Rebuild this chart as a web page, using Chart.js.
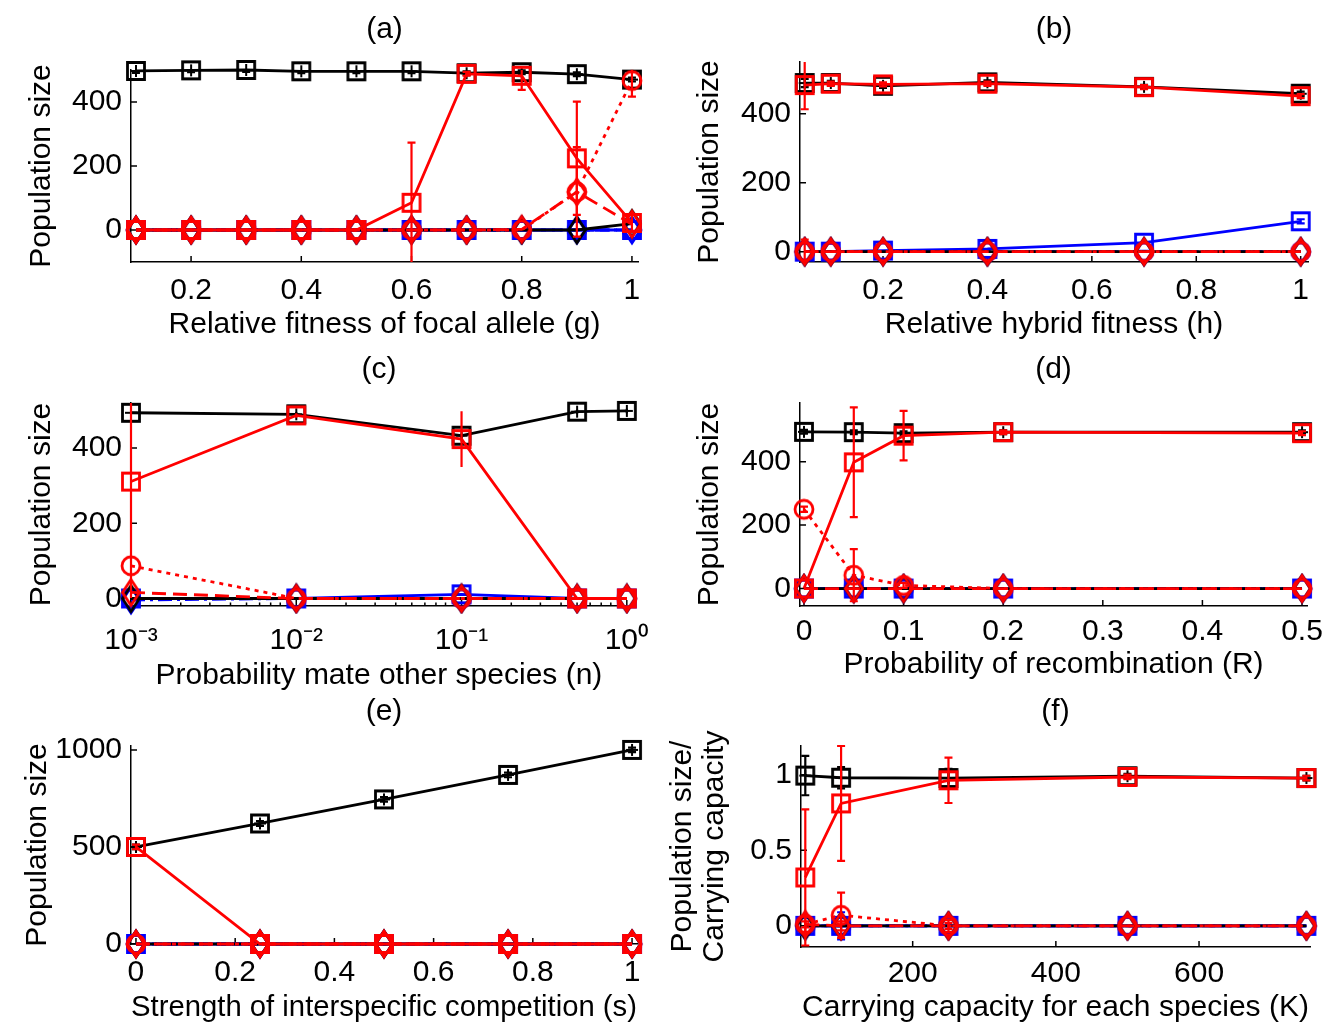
<!DOCTYPE html>
<html>
<head>
<meta charset="utf-8">
<script src="https://cdn.jsdelivr.net/npm/chart.js@4.4.1/dist/chart.umd.min.js"></script>
<style>
body { margin: 0; background: #fff; }
#wrap { position: relative; width: 1333px; height: 1026px; overflow: hidden; }
canvas { position: absolute; }
</style>
</head>
<body>
<div id="wrap"></div>
<script>
// ---- data ----
// (a) relative fitness of focal allele
const a_x = [0.1, 0.2, 0.3, 0.4, 0.5, 0.6, 0.7, 0.8, 0.9, 1.0];
const a_k_sq = [497, 499, 500, 496, 496, 496, 490, 493, 487, 470];
const a_k_sq_err = [6, 6, 6, 6, 6, 6, 6, 6, 6, 6];
const a_k_di = [0, 0, 0, 0, 0, 0, 0, 0, 0, 20];
const a_b_sq = [0, 0, 0, 0, 0, 0, 0, 0, 0, 0];
const a_b_ci = [0, 0, 0, 0, 0, 0, 0, 0, 0, 0];
const a_b_di = [0, 0, 0, 0, 0, 0, 0, 0, 0, 0];
const a_r_sq = [0, 0, 0, 0, 0, 85, 488, 482, 224, 22];
const a_r_sq_err = [0, 0, 0, 0, 0, 188, 6, 44, 177, 25];
const a_r_ci = [0, 0, 0, 0, 0, 0, 0, 0, 119, 467];
const a_r_ci_err = [0, 0, 0, 0, 0, 0, 0, 0, 140, 50];
const a_r_di = [0, 0, 0, 0, 0, 0, 0, 2, 119, 18];
const a_xt = [0.2, 0.4, 0.6, 0.8, 1];
const a_yt = [0, 200, 400];

// (b) relative hybrid fitness
const b_x = [0.05, 0.1, 0.2, 0.4, 0.7, 1.0];
const b_k_sq = [489, 489, 481, 491, 478, 458];
const b_k_sq_err = [12, 6, 6, 6, 6, 6];
const b_k_di = [0, 0, 0, 0, 0, 0];
const b_b_sq = [0, 0, 3, 8, 26, 88];
const b_b_sq_err = [0, 0, 0, 0, 0, 6];
const b_b_ci = [0, 0, 0, 0, 0, 0];
const b_b_di = [0, 0, 0, 0, 0, 0];
const b_r_sq = [483, 487, 485, 487, 477, 451];
const b_r_sq_err = [70, 6, 6, 6, 6, 6];
const b_r_ci = [0, 0, 0, 0, 0, 0];
const b_r_ci_err = [35, 0, 0, 0, 0, 0];
const b_r_di = [0, 0, 0, 0, 0, 0];
const b_xt = [0.2, 0.4, 0.6, 0.8, 1];
const b_yt = [0, 200, 400];

// (c) probability mate other species (log axis)
const c_x = [0.001, 0.01, 0.1, 0.5, 1];
const c_k_sq = [494, 490, 433, 497, 499];
const c_k_sq_err = [0, 6, 6, 6, 6];
const c_k_di = [0, 0, 0, 0, 0];
const c_b_sq = [0, 0, 11, 0, 0];
const c_b_ci = [0, 0, 0, 0, 0];
const c_b_di = [-4, 0, 0, 0, 0];
const c_r_sq = [311, 487, 424, 0, 0];
const c_r_sq_err = [310, 6, 74, 0, 0];
const c_r_ci = [87, 0, 0, 0, 0];
const c_r_di = [16, 0, 0, 0, 0];
const c_xt = [0.001, 0.01, 0.1, 1];
const c_xtl = ['10\u207B\u00B3', '10\u207B\u00B2', '10\u207B\u00B9', '10\u2070'];
const c_yt = [0, 200, 400];

// (d) probability of recombination
const d_x = [0, 0.05, 0.1, 0.2, 0.5];
const d_k_sq = [494, 493, 490, 493, 493];
const d_k_sq_err = [6, 6, 6, 6, 6];
const d_k_di = [0, 0, 0, 0, 0];
const d_b_sq = [0, 0, 0, 0, 0];
const d_b_ci = [0, 0, 0, 0, 0];
const d_b_di = [0, 0, 0, 0, 0];
const d_r_sq = [0, 398, 482, 493, 490];
const d_r_sq_err = [0, 173, 78, 6, 6];
const d_r_ci = [250, 42, 10, 0, 0];
const d_r_ci_err = [8, 82, 8, 0, 0];
const d_r_di = [0, 0, 0, 0, 0];
const d_xt = [0, 0.1, 0.2, 0.3, 0.4, 0.5];
const d_yt = [0, 200, 400];

// (e) strength of interspecific competition
const e_x = [0, 0.25, 0.5, 0.75, 1];
const e_k_sq = [500, 621, 745, 871, 1000];
const e_k_sq_err = [12, 12, 12, 12, 12];
const e_k_di = [0, 0, 0, 0, 0];
const e_b_sq = [0, 0, 0, 0, 0];
const e_b_ci = [0, 0, 0, 0, 0];
const e_b_di = [0, 0, 0, 0, 0];
const e_r_sq = [500, 0, 0, 0, 0];
const e_r_sq_err = [12, 0, 0, 0, 0];
const e_r_ci = [0, 0, 0, 0, 0];
const e_r_di = [0, 0, 0, 0, 0];
const e_xt = [0, 0.2, 0.4, 0.6, 0.8, 1];
const e_yt = [0, 500, 1000];

// (f) carrying capacity for each species
const f_x = [50, 100, 250, 500, 750];
const f_k_sq = [0.994, 0.98, 0.978, 0.99, 0.978];
const f_k_sq_err = [0.13, 0.07, 0.06, 0.015, 0.015];
const f_k_di = [0, 0, 0, 0, 0];
const f_b_sq = [0, 0, 0, 0, 0];
const f_b_ci = [0, 0, 0, 0, 0];
const f_b_di = [0, 0, 0, 0, 0];
const f_b_di_err = [0, 0.09, 0, 0, 0];
const f_r_sq = [0.32, 0.81, 0.963, 0.985, 0.978];
const f_r_sq_err = [0.45, 0.38, 0.15, 0.015, 0.015];
const f_r_ci = [0.01, 0.07, 0, 0, 0];
const f_r_ci_err = [0.05, 0.15, 0.02, 0, 0];
const f_r_di = [0.01, 0, 0, 0, 0];
const f_r_di_err = [0.02, 0.03, 0.04, 0, 0];
const f_xt = [200, 400, 600];
const f_yt = [0, 0.5, 1];

// ---- drawing ----
Chart.defaults.font.family = '"Liberation Sans", Arial, sans-serif';
Chart.defaults.font.size = 30;
Chart.defaults.color = '#000';
const FS = 30;

const BLACK = '#000000', RED = '#ff0000', BLUE = '#0000ff';

// matlab-like marker glyphs
function marker(shape, color) {
  const c = document.createElement('canvas');
  const w = 26, h = shape === 'diamond' ? 32 : 26;
  c.width = w; c.height = h;
  const g = c.getContext('2d');
  const cx = w / 2, cy = h / 2;
  g.strokeStyle = color;
  g.lineWidth = 2.8;
  g.beginPath();
  if (shape === 'square' || shape === 'sqplus') g.rect(cx - 8.5, cy - 8.5, 17, 17);
  else if (shape === 'circle') g.arc(cx, cy, 9, 0, Math.PI * 2);
  else { g.moveTo(cx, cy - 13); g.lineTo(cx + 8.5, cy); g.lineTo(cx, cy + 13); g.lineTo(cx - 8.5, cy); g.closePath(); }
  g.stroke();
  if (shape === 'sqplus') {
    g.lineWidth = 2;
    g.beginPath();
    g.moveTo(cx, cy - 6); g.lineTo(cx, cy + 6);
    g.moveTo(cx - 6, cy); g.lineTo(cx + 6, cy);
    g.stroke();
  }
  return c;
}

function series(xs, ys, errs, color, shape, dash) {
  return {
    data: xs.map((x, i) => ({x: x, y: ys[i]})),
    errs: errs || null,
    borderColor: color,
    backgroundColor: color,
    borderWidth: 2.8,
    borderDash: dash,
    pointStyle: marker(shape, color),
    pointRadius: 8,
    tension: 0,
    clip: false
  };
}

// bottom -> top
function panelSets(x, s) {
  const list = [
    series(x, s.b_di, s.b_di_err, BLUE, 'diamond', [14, 5, 3, 5]),
    series(x, s.b_ci, null, BLUE, 'circle', [10, 6]),
    series(x, s.b_sq, s.b_sq_err, BLUE, 'square', []),
    series(x, s.k_di, null, BLACK, 'diamond', []),
    series(x, s.k_sq, s.k_sq_err, BLACK, 'sqplus', []),
    series(x, s.r_di, s.r_di_err, RED, 'diamond', [14, 7]),
    series(x, s.r_ci, s.r_ci_err, RED, 'circle', [4, 5]),
    series(x, s.r_sq, s.r_sq_err, RED, 'square', [])
  ];
  list.forEach((d, i) => { d.order = list.length - i; });
  return list;
}

const errorBars = {
  id: 'errorBars',
  afterDatasetDraw(chart, args, opts) {
    const ds = chart.data.datasets[args.index];
    if (!ds.errs) return;
    const xs = chart.scales.x, ys = chart.scales.y, area = chart.chartArea, ctx = chart.ctx;
    const cw = opts.cap;
    ctx.save();
    ctx.strokeStyle = ds.borderColor;
    ctx.lineWidth = 2.2;
    ctx.beginPath();
    ds.data.forEach((p, i) => {
      const e = ds.errs[i];
      if (!e) return;
      const px = xs.getPixelForValue(p.x);
      let top = ys.getPixelForValue(p.y + e), bot = ys.getPixelForValue(p.y - e);
      const capTop = top >= area.top, capBot = bot <= area.bottom;
      top = Math.max(top, area.top); bot = Math.min(bot, area.bottom);
      ctx.moveTo(px, top); ctx.lineTo(px, bot);
      if (cw && capTop) { ctx.moveTo(px - cw, top); ctx.lineTo(px + cw, top); }
      if (cw && capBot) { ctx.moveTo(px - cw, bot); ctx.lineTo(px + cw, bot); }
    });
    ctx.stroke();
    ctx.restore();
  }
};

// inward tick marks, matlab style
const inTicks = {
  id: 'inTicks',
  beforeDatasetsDraw(chart) {
    const {ctx, chartArea: a, scales: {x, y}} = chart;
    ctx.save();
    ctx.strokeStyle = '#000';
    ctx.lineWidth = 1.5;
    ctx.beginPath();
    x.ticks.forEach(t => {
      const px = x.getPixelForValue(t.value);
      const len = t.label ? 6 : 3.5;
      ctx.moveTo(px, a.bottom); ctx.lineTo(px, a.bottom - len);
    });
    y.ticks.forEach(t => {
      const py = y.getPixelForValue(t.value);
      ctx.moveTo(a.left, py); ctx.lineTo(a.left + 6, py);
    });
    ctx.stroke();
    ctx.restore();
  }
};

function makeChart(p) {
  const cv = document.createElement('canvas');
  cv.width = p.w; cv.height = p.h;
  cv.style.left = p.x0 + 'px';
  cv.style.top = p.y0 + 'px';
  document.getElementById('wrap').appendChild(cv);
  const lh = FS * 1.2;
  const multi = Array.isArray(p.ylab);
  const ylh = multi ? FS * 1.07 : lh;
  const tTop = p.tc - p.y0 - lh / 2;
  const tBot = p.T - p.y0 - tTop - lh;
  const axisStyle = {
    grid: {display: false, drawTicks: false},
    border: {display: true, color: '#000', width: 1.5}
  };
  new Chart(cv, {
    type: 'line',
    data: {datasets: p.sets},
    options: {
      responsive: false,
      animation: false,
      devicePixelRatio: 1,
      events: [],
      layout: {padding: {left: 0, top: 0, bottom: 0, right: p.x0 + p.w - p.R}},
      plugins: {
        legend: {display: false},
        tooltip: {enabled: false},
        title: {display: true, text: p.title, fullSize: false, font: {size: FS, weight: 'normal'},
                padding: {top: tTop, bottom: tBot}},
        errorBars: {cap: p.cap}
      },
      scales: {
        x: Object.assign({}, axisStyle, {
          type: p.xlog ? 'logarithmic' : 'linear',
          min: p.xmin, max: p.xmax,
          ticks: {padding: p.xpad, maxRotation: 0, autoSkip: false, font: {size: FS},
                  callback: p.xfmt || (v => String(v))},
          afterBuildTicks: s => { s.ticks = p.xt.map(v => ({value: v})); },
          afterFit: s => { s.height = p.y0 + p.h - p.B; },
          title: {display: true, text: p.xlab, font: {size: FS},
                  padding: {top: 0, bottom: p.y0 + p.h - p.xlc - lh / 2}}
        }),
        y: Object.assign({}, axisStyle, {
          type: 'linear',
          position: 'left',
          min: p.ymin, max: p.ymax,
          ticks: {padding: 9, font: {size: FS}, callback: v => String(v)},
          afterBuildTicks: s => { s.ticks = p.yt.map(v => ({value: v})); },
          afterFit: s => { s.width = p.L - p.x0; },
          title: {display: true, text: p.ylab, font: {size: FS, lineHeight: multi ? 1.07 : 1.2},
                  padding: {top: p.ylc - p.x0 - ylh / 2, bottom: 0}}
        })
      }
    },
    plugins: [errorBars, inTicks]
  });
}

// log minor tick positions for (c)
const c_ticks = [];
[0.001, 0.01, 0.1].forEach(d => { for (let k = 1; k < 10; k++) c_ticks.push(d * k); });
c_ticks.push(1);

const panels = [
  {title: '(a)', x0: 0, y0: 0, w: 666, h: 350, L: 131, R: 638, T: 70, B: 262, tc: 30,
   xlab: 'Relative fitness of focal allele (g)', xlc: 325, ylab: 'Population size', ylc: 42,
   xmin: 0.091, xmax: 1.011, ymin: -100, ymax: 500, xt: a_xt, yt: a_yt, xpad: 11, cap: 4,
   sets: panelSets(a_x, {k_sq: a_k_sq, k_sq_err: a_k_sq_err, k_di: a_k_di, b_sq: a_b_sq, b_ci: a_b_ci,
     b_di: a_b_di, r_sq: a_r_sq, r_sq_err: a_r_sq_err, r_ci: a_r_ci, r_ci_err: a_r_ci_err, r_di: a_r_di})},
  {title: '(b)', x0: 666, y0: 0, w: 667, h: 350, L: 800, R: 1308, T: 62, B: 262, tc: 30,
   xlab: 'Relative hybrid fitness (h)', xlc: 325, ylab: 'Population size', ylc: 710,
   xmin: 0.041, xmax: 1.014, ymin: -30, ymax: 550, xt: b_xt, yt: b_yt, xpad: 11, cap: 4,
   sets: panelSets(b_x, {k_sq: b_k_sq, k_sq_err: b_k_sq_err, k_di: b_k_di, b_sq: b_b_sq, b_sq_err: b_b_sq_err,
     b_ci: b_b_ci, b_di: b_b_di, r_sq: b_r_sq, r_sq_err: b_r_sq_err, r_ci: b_r_ci, r_ci_err: b_r_ci_err, r_di: b_r_di})},
  {title: '(c)', x0: 0, y0: 340, w: 666, h: 360, L: 131, R: 633, T: 403, B: 606, tc: 370,
   xlab: 'Probability mate other species (n)', xlc: 676, ylab: 'Population size', ylc: 42,
   xmin: 0.001, xmax: 1, ymin: -20, ymax: 520, xt: c_ticks, yt: c_yt, xpad: 17, cap: 0, xlog: true,
   xfmt: v => { const i = c_xt.findIndex(t => Math.abs(t - v) < v * 1e-6); return i >= 0 ? c_xtl[i] : ''; },
   sets: panelSets(c_x, {k_sq: c_k_sq, k_sq_err: c_k_sq_err, k_di: c_k_di, b_sq: c_b_sq, b_ci: c_b_ci,
     b_di: c_b_di, r_sq: c_r_sq, r_sq_err: c_r_sq_err, r_ci: c_r_ci, r_di: c_r_di})},
  {title: '(d)', x0: 666, y0: 340, w: 667, h: 360, L: 800, R: 1307, T: 403, B: 606, tc: 370,
   xlab: 'Probability of recombination (R)', xlc: 665, ylab: 'Population size', ylc: 710,
   xmin: -0.004, xmax: 0.505, ymin: -55, ymax: 585, xt: d_xt, yt: d_yt, xpad: 8, cap: 4,
   sets: panelSets(d_x, {k_sq: d_k_sq, k_sq_err: d_k_sq_err, k_di: d_k_di, b_sq: d_b_sq, b_ci: d_b_ci,
     b_di: d_b_di, r_sq: d_r_sq, r_sq_err: d_r_sq_err, r_ci: d_r_ci, r_ci_err: d_r_ci_err, r_di: d_r_di})},
  {title: '(e)', x0: 0, y0: 690, w: 666, h: 336, L: 131, R: 637, T: 746, B: 944, tc: 712,
   xlab: 'Strength of interspecific competition (s)', xlc: 1008, ylab: 'Population size', ylc: 38,
   xmin: -0.01, xmax: 1.01, ymin: 0, ymax: 1020, xt: e_xt, yt: e_yt, xpad: 11, cap: 4,
   sets: panelSets(e_x, {k_sq: e_k_sq, k_sq_err: e_k_sq_err, k_di: e_k_di, b_sq: e_b_sq, b_ci: e_b_ci,
     b_di: e_b_di, r_sq: e_r_sq, r_sq_err: e_r_sq_err, r_ci: e_r_ci, r_di: e_r_di})},
  {title: '(f)', x0: 666, y0: 690, w: 667, h: 336, L: 801, R: 1310, T: 746, B: 947, tc: 712,
   xlab: 'Carrying capacity for each species (K)', xlc: 1008,
   ylab: ['Population size/', 'Carrying capacity'], ylc: 683,
   xmin: 44, xmax: 755, ymin: -0.14, ymax: 1.19, xt: f_xt, yt: f_yt, xpad: 9, cap: 4,
   sets: panelSets(f_x, {k_sq: f_k_sq, k_sq_err: f_k_sq_err, k_di: f_k_di, b_sq: f_b_sq, b_ci: f_b_ci,
     b_di: f_b_di, b_di_err: f_b_di_err, r_sq: f_r_sq, r_sq_err: f_r_sq_err, r_ci: f_r_ci, r_ci_err: f_r_ci_err,
     r_di: f_r_di, r_di_err: f_r_di_err})}
];

panels.forEach(makeChart);
</script>
</body>
</html>
